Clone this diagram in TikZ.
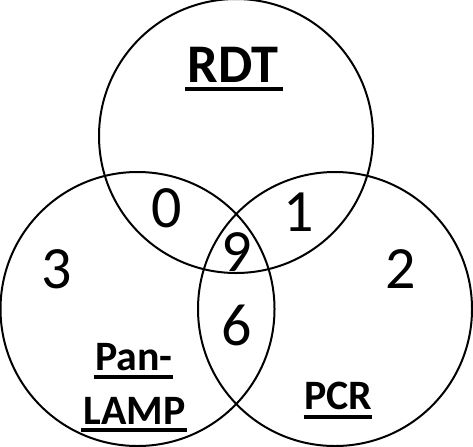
\documentclass[tikz,border=0pt]{standalone}
\usepackage{fontspec}
\setmainfont{Carlito}
\begin{document}
\begin{tikzpicture}[x=0.75pt,y=-0.75pt,
  ring/.style={circle,draw,line width=1.5pt,minimum size=205.5pt,inner sep=0pt},
  num/.style={anchor=base,inner sep=0pt,font=\fontsize{45}{45}\selectfont},
  title/.style={anchor=base,inner sep=0pt,font=\bfseries\fontsize{31.4}{31.4}\selectfont},
  ul/.style={line width=2.3pt}]
\useasboundingbox (0,0) rectangle (473,446);
\node[ring] (ctop) at (236,136) {};
\node[ring] (cleft) at (137.5,309) {};
\node[ring] (cright) at (335,309) {};
\node[title,font=\bfseries\fontsize{40.8}{40.8}\selectfont] (rdt) at (233,82) {RDT};
\node[title] (pan) at (134,370) {Pan-};
\node[title] (lamp) at (134.5,424) {LAMP};
\node[title] (pcr) at (338,409) {PCR};
\draw[ul] ([xshift=-1.5pt,yshift=-5.25pt]rdt.base west) -- ([xshift=3pt,yshift=-5.25pt]rdt.base east);
\draw[ul] ([xshift=-1pt,yshift=-5.25pt]pan.base west) -- ([yshift=-5.25pt]pan.base east);
\draw[ul] ([xshift=-2pt,yshift=-4.5pt]lamp.base west) -- ([xshift=1pt,yshift=-4.5pt]lamp.base east);
\draw[ul] ([yshift=-6pt]pcr.base west) -- ([yshift=-6pt]pcr.base east);
\node[num] (n0) at (167,227) {0};
\node[num] (n1) at (299,231) {1};
\node[num] (n9) at (237,271) {9};
\node[num] (n3) at (57,288) {3};
\node[num] (n2) at (401,288) {2};
\node[num] (n6) at (237,345) {6};
\end{tikzpicture}
\end{document}
